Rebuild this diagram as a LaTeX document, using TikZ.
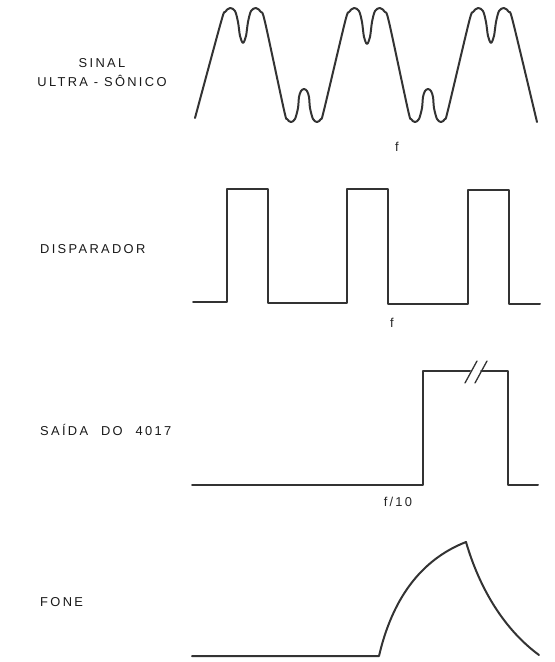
\documentclass[tikz,border=0pt]{standalone}
\usepackage{fontspec}
\setmainfont{Liberation Sans}[LetterSpace=18]
\usetikzlibrary{positioning}

\begin{document}
\begin{tikzpicture}[x=0.03cm,y=-0.03cm,wave/.style={line width=1.7pt,draw=black!80,line join=round,line cap=round},
		lbl/.style={anchor=west,inner sep=0pt,font=\fontsize{11}{13}\selectfont,text=black!90},
		freq/.style={inner sep=0pt,font=\fontsize{11}{13}\selectfont,text=black!85},node distance=1cm]
		\useasboundingbox (0,0) rectangle (555,662);
		% labels
		\node[lbl,anchor=center] (ultra) at (102,81) {ULTRA - SÔNICO};
		\node[lbl,anchor=south,above=6pt of ultra] (sinal) {SINAL};
		\node[lbl] (disp) at (40,249) {DISPARADOR};
		\node[lbl] (saida) at (40,430) {SAÍDA\hspace{11pt}DO\hspace{11pt}4017};
		\node[lbl] (fone) at (40,602) {FONE};
		% ultra-sonic signal
		\draw[wave] plot[smooth,tension=0.5] coordinates {(195,118)
			(221,22) (225,12) (230,8) (235,11) (238,22) (240,36) (243,43) (246,36) (248,22) (251,11) (256,8) (261,12) (265,22)
			(284,110) (287,119) (291,122) (295,119) (298,108) (299,97) (301,91) (304,89) (307,91) (309,97) (310,108) (313,119) (317,122) (321,119) (324,110)
			(345,22) (349,12) (354,8) (359,11) (362,22) (364,37) (367,44) (370,37) (372,22) (375,11) (380,8) (385,12) (389,22)
			(408,110) (411,119) (415,122) (419,119) (422,108) (423,97) (425,91) (428,89) (431,91) (433,97) (434,108) (437,119) (441,122) (445,119) (448,110)
			(469,22) (473,12) (478,8) (483,11) (486,22) (488,36) (491,43) (494,36) (496,22) (499,11) (504,8) (509,12) (513,22)
			(537,122)};
		\node[freq] (f1) at (397,147) {f};
		% trigger pulses
		\draw[wave] (193,302) -- (227,302) -- (227,189) -- (268,189) -- (268,303) -- (347,303) -- (347,189)
			-- (388,189) -- (388,304) -- (468,304) -- (468,190) -- (509,190) -- (509,304) -- (540,304);
		\node[freq] (f2) at (392,323) {f};
		% 4017 output
		\draw[wave] (192,485) -- (423,485) -- (423,371) -- (470,371);
		\draw[wave] (481,371) -- (508,371) -- (508,485) -- (538,485);
		\draw[wave,line width=1.1pt] (465,383) -- (477,361) (475,383) -- (487,361);
		\node[freq] (f3) at (398,502) {f\,/\,10};
		% earphone
		\draw[wave] (192,656) -- (379,656) .. controls (392,600) and (420,560) .. (466,542)
			.. controls (480,590) and (505,630) .. (539,655);
	\end{tikzpicture}
\end{document}
